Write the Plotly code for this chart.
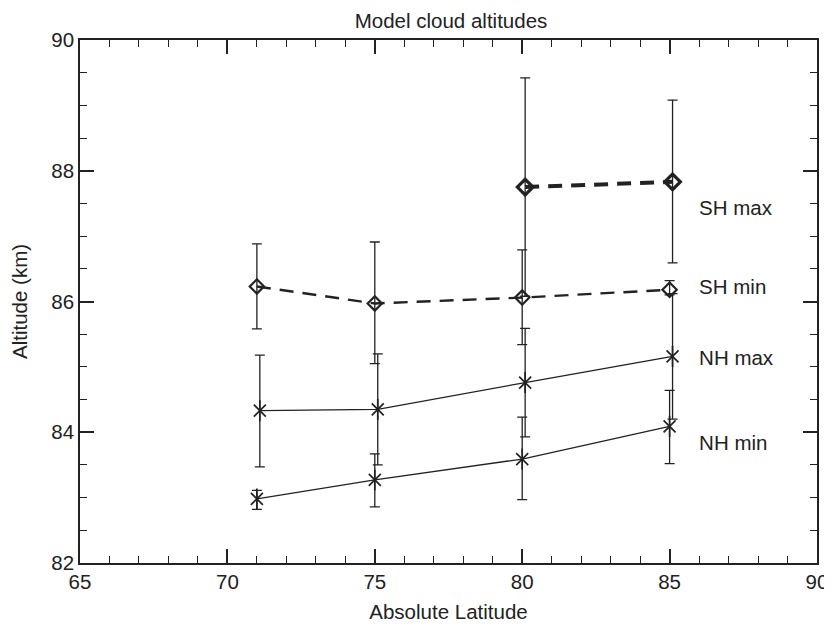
import plotly.graph_objects as go

# Data
nh_min_lat = [71.0, 75.0, 80.0, 85.0]
nh_min_alt = [82.98, 83.27, 83.59, 84.09]
nh_min_hi = [83.11, 83.67, 84.23, 84.64]
nh_min_lo = [82.82, 82.86, 82.97, 83.52]

nh_max_lat = [71.1, 75.1, 80.1, 85.1]
nh_max_alt = [84.33, 84.35, 84.76, 85.16]
nh_max_hi = [85.18, 85.20, 85.59, 86.12]
nh_max_lo = [83.47, 83.50, 83.93, 84.20]

sh_min_lat = [71.0, 75.0, 80.0, 85.0]
sh_min_alt = [86.23, 85.97, 86.06, 86.18]
sh_min_hi = [86.88, 86.91, 86.79, 86.32]
sh_min_lo = [85.58, 85.05, 85.34, 86.10]

sh_max_lat = [80.1, 85.1]
sh_max_alt = [87.75, 87.83]
sh_max_hi = [89.42, 89.08]
sh_max_lo = [86.08, 86.59]

label_text = ["SH max", "SH min", "NH max", "NH min"]
label_x = [86.0, 86.0, 86.0, 86.0]
label_y = [87.40, 86.20, 85.10, 83.80]

INK = "#222222"
FONT = "Liberation Sans, Arial, Helvetica, sans-serif"
FS = 20.5


def err(alt, hi, lo):
    return dict(type="data", symmetric=False,
                array=[h - a for h, a in zip(hi, alt)],
                arrayminus=[a - l for a, l in zip(alt, lo)],
                color=INK, thickness=1.3, width=5)


fig = go.Figure()

# NH series: solid thin lines, asterisk markers
for lat, alt, hi, lo in [(nh_min_lat, nh_min_alt, nh_min_hi, nh_min_lo),
                         (nh_max_lat, nh_max_alt, nh_max_hi, nh_max_lo)]:
    fig.add_trace(go.Scatter(
        x=lat, y=alt, mode="lines+markers",
        line=dict(color=INK, width=1.3),
        marker=dict(symbol="x-thin-open", size=12, color=INK,
                    line=dict(color=INK, width=1.7)),
        error_y=err(alt, hi, lo), showlegend=False, hoverinfo="x+y"))
    fig.add_trace(go.Scatter(
        x=lat, y=alt, mode="markers",
        marker=dict(symbol="line-ns-open", size=15, color=INK,
                    line=dict(color=INK, width=1.7)),
        showlegend=False, hoverinfo="skip"))

# SH min: dashed medium line, diamonds
fig.add_trace(go.Scatter(
    x=sh_min_lat, y=sh_min_alt, mode="lines+markers",
    line=dict(color=INK, width=2.4, dash="14px,9px"),
    marker=dict(symbol="diamond-open", size=11, color=INK, line=dict(color=INK, width=2.2)),
    error_y=err(sh_min_alt, sh_min_hi, sh_min_lo), showlegend=False))

# SH max: dashed thick line, bold diamonds
fig.add_trace(go.Scatter(
    x=sh_max_lat, y=sh_max_alt, mode="lines+markers",
    line=dict(color=INK, width=4, dash="14px,9px"),
    marker=dict(symbol="diamond-open", size=12, color=INK, line=dict(color=INK, width=3.2)),
    error_y=err(sh_max_alt, sh_max_hi, sh_max_lo), showlegend=False))

# Series labels
fig.add_trace(go.Scatter(
    x=label_x, y=label_y, mode="text", text=label_text,
    textposition="middle right",
    textfont=dict(family=FONT, size=FS, color=INK),
    showlegend=False, hoverinfo="skip"))

axis_common = dict(
    showgrid=False, zeroline=False,
    showline=True, linecolor=INK, linewidth=1.5, mirror="ticks",
    ticks="inside", ticklen=14, tickwidth=1.5, tickcolor=INK,
    tickfont=dict(family=FONT, size=FS, color=INK),
)

fig.update_xaxes(
    range=[65, 90], dtick=5, tick0=65,
    minor=dict(dtick=1, ticks="inside", ticklen=7, tickwidth=1.3, tickcolor=INK),
    title=dict(text="Absolute Latitude", font=dict(family=FONT, size=FS, color=INK), standoff=12),
    **axis_common)
fig.update_yaxes(
    range=[82, 90], dtick=2, tick0=82,
    minor=dict(dtick=0.5, ticks="inside", ticklen=7, tickwidth=1.3, tickcolor=INK),
    title=dict(text="Altitude (km)", font=dict(family=FONT, size=FS, color=INK), standoff=19),
    **axis_common)

fig.update_layout(
    width=824, height=625,
    margin=dict(l=72, r=15, t=32, b=70, autoexpand=False),
    paper_bgcolor="white", plot_bgcolor="white",
    font=dict(family=FONT, size=FS, color=INK),
    title=dict(text="Model cloud altitudes", x=443 / 824, xanchor="center",
               y=1 - 13 / 625, yanchor="middle", yref="container",
               font=dict(family=FONT, size=FS, color=INK)),
)

fig.write_html("out.html")
